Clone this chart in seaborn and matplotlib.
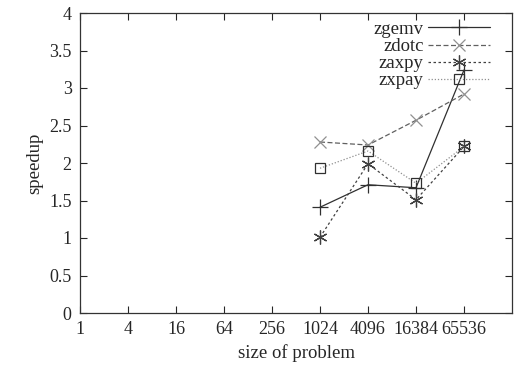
import numpy as np
import pandas as pd
import matplotlib
matplotlib.use('Agg')
import matplotlib.pyplot as plt
import seaborn as sns

sizes = [1024, 4096, 16384, 65536]
zgemv = [1.41, 1.71, 1.67, 3.24]
zdotc = [2.28, 2.24, 2.57, 2.92]
zaxpy = [1.01, 1.99, 1.51, 2.22]
zxpay = [1.93, 2.16, 1.73, 2.22]
tick_labels = ['1', '4', '16', '64', '256', '1024', '4096', '16384', '65536']

sns.set_style('ticks')
plt.rcParams['font.family'] = ['Liberation Serif', 'DejaVu Serif']
plt.rcParams['font.size'] = 13

fig = plt.figure(figsize=(5.17, 3.70), dpi=100)
ax = fig.add_axes([80/517, 57/370, 432/517, 300/370])

# name, values, line style, line colour, marker, marker size, marker colour
styles = [
    ('zgemv', zgemv, '-', '#303030', '+', 11, '#303030'),
    ('zdotc', zdotc, (0, (4, 2)), '#606060', 'x', 9, '#909090'),
    ('zaxpy', zaxpy, (0, (2, 2)), '#404040', (6, 2, 0), 10, '#404040'),
    ('zxpay', zxpay, (0, (1, 1.5)), '#909090', 's', 7, '#303030'),
]
for name, vals, ls, col, mk, ms, mc in styles:
    df = pd.DataFrame({'size': sizes, 'speedup': vals})
    sns.lineplot(data=df, x='size', y='speedup', ax=ax, label=name, color=col,
                 linestyle=ls, linewidth=0.9, marker=mk, markersize=ms,
                 markerfacecolor='none', markeredgecolor=mc, markeredgewidth=0.9)

ax.set_xscale('log', base=2)
ax.set_xlim(1, 2**18)
ax.set_ylim(0, 4)
ax.set_xticks([4**k for k in range(9)])
ax.set_xticklabels(tick_labels)
ax.xaxis.set_minor_locator(matplotlib.ticker.NullLocator())
ax.set_yticks(np.arange(0, 4.01, 0.5))
ax.set_yticklabels(['0', '0.5', '1', '1.5', '2', '2.5', '3', '3.5', '4'])
ax.tick_params(direction='in', top=True, right=True, length=5, width=0.8, labelsize=13, pad=6)
for s in ax.spines.values():
    s.set_visible(True)
    s.set_linewidth(0.9)
    s.set_color('#333333')
ax.set_xlabel('size of problem', fontsize=13.5)
ax.set_ylabel('speedup', fontsize=13.5)

ax.legend(loc='upper right', bbox_to_anchor=(1 - 14/432, 1), frameon=False,
          markerfirst=False, fontsize=13.5, handlelength=3.3, labelspacing=0.0,
          borderaxespad=0.2, borderpad=0.22, handletextpad=0.25)
for t in ax.get_legend().get_texts():
    t.set_ha('right')

fig.savefig('out.png', dpi=100)
